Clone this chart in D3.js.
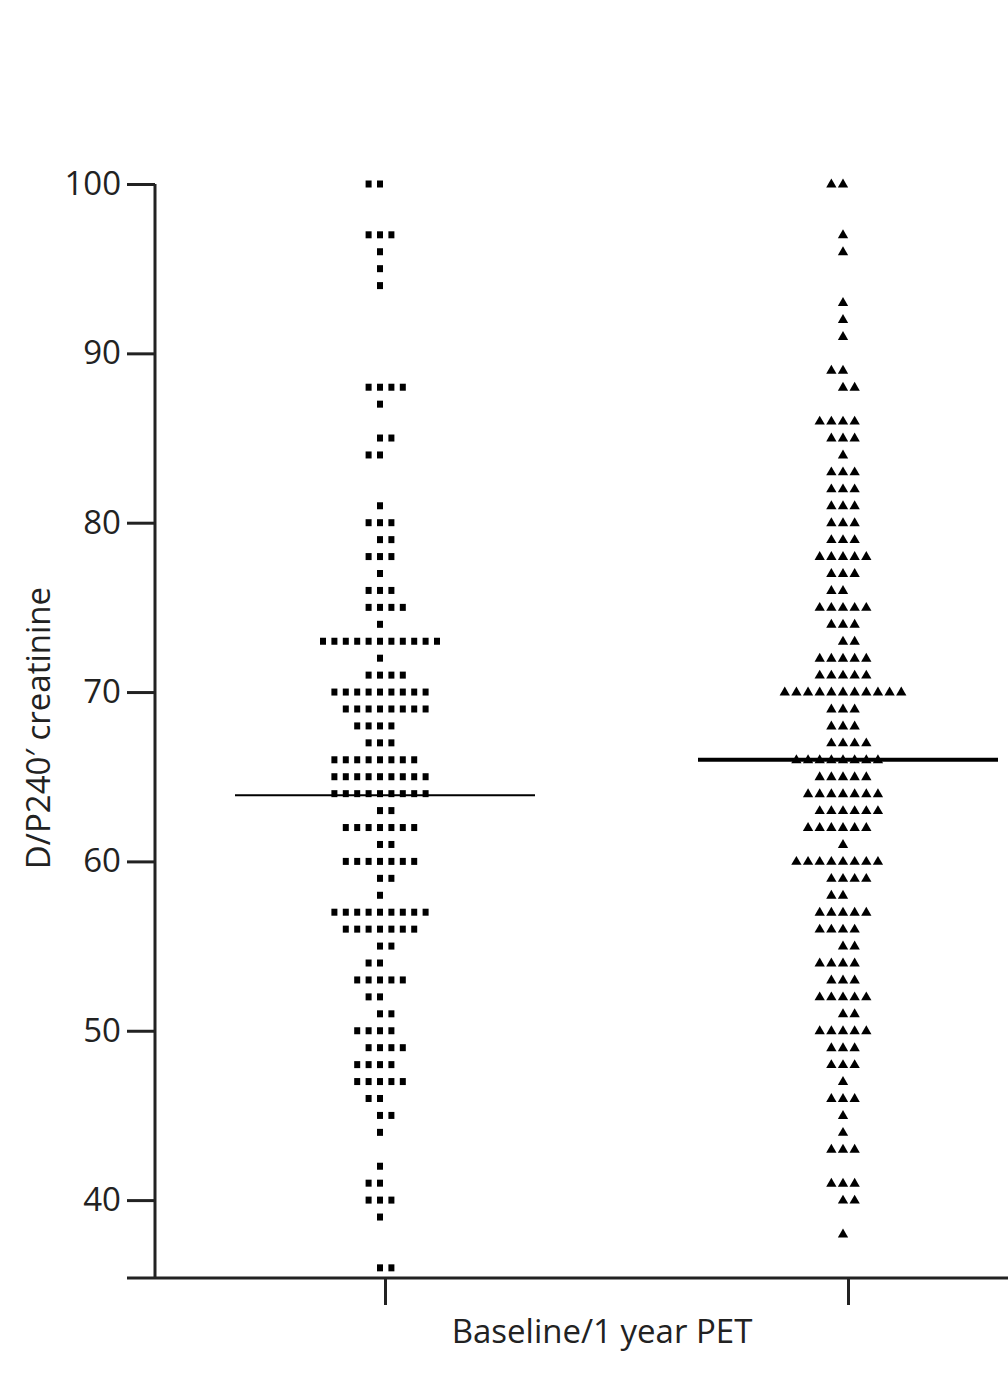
<!DOCTYPE html>
<html>
<head>
<meta charset="utf-8">
<script src="https://cdn.jsdelivr.net/npm/d3@7"></script>
<style>
  body { margin: 0; background: #fff; }
  text { font-family: "Open Sans", "Noto Sans", sans-serif; fill: #222; }
</style>
</head>
<body>
<div id="chart"></div>
<script>
// Groups along the x axis
var groups = ['Baseline', '1 year PET'];

// Baseline PET: value and number of patients with that value
var baselineValues = [100, 97, 96, 95, 94, 88, 87, 85, 84, 81, 80, 79, 78, 77, 76, 75, 74, 73, 72, 71,
    70, 69, 68, 67, 66, 65, 64, 63, 62, 61, 60, 59, 58, 57, 56, 55, 54, 53, 52, 51,
    50, 49, 48, 47, 46, 45, 44, 42, 41, 40, 39, 36];
var baselineCounts = [2, 3, 1, 1, 1, 4, 1, 2, 2, 1, 3, 2, 3, 1, 3, 4, 1, 11, 1, 4,
    9, 8, 4, 3, 8, 9, 9, 2, 7, 2, 7, 2, 1, 9, 7, 2, 2, 5, 2, 2,
    4, 4, 4, 5, 2, 2, 1, 1, 2, 3, 1, 2];

// 1 year PET
var yearValues = [100, 97, 96, 93, 92, 91, 89, 88, 86, 85, 84, 83, 82, 81, 80, 79, 78, 77, 76, 75,
    74, 73, 72, 71, 70, 69, 68, 67, 66, 65, 64, 63, 62, 61, 60, 59, 58, 57, 56, 55,
    54, 53, 52, 51, 50, 49, 48, 47, 46, 45, 44, 43, 41, 40, 38];
var yearCounts = [2, 1, 1, 1, 1, 1, 2, 2, 4, 3, 1, 3, 3, 3, 3, 3, 5, 3, 2, 5,
    3, 2, 5, 5, 11, 3, 3, 4, 8, 5, 7, 6, 6, 1, 8, 4, 2, 5, 4, 2,
    4, 3, 5, 2, 5, 3, 3, 1, 3, 1, 1, 3, 3, 2, 1];

// Horizontal lines drawn across each group
var groupMeans = [63.9, 66.0];

// Which side an even row leans to (-1 left, 1 right)
var baselineLean = {100: -1, 88: 1, 85: 1, 84: -1, 79: 1, 75: 1, 71: 1, 69: 1, 68: -1, 66: -1,
    63: 1, 61: 1, 59: 1, 55: 1, 54: -1, 52: -1, 51: 1, 50: -1, 49: 1, 48: -1,
    46: -1, 45: 1, 41: -1, 36: 1};
var yearLean = {100: -1, 89: -1, 88: 1, 86: -1, 76: -1, 73: 1, 67: 1, 66: -1, 63: 1, 62: -1,
    60: -1, 59: 1, 58: -1, 56: -1, 55: 1, 54: -1, 51: 1, 40: 1};

var yTicks = [40, 50, 60, 70, 80, 90, 100];

var width = 1008,
    height = 1375;

var svg = d3.select('#chart').append('svg')
    .attr('width', width)
    .attr('height', height);

var y = d3.scaleLinear().domain([35.4, 100]).range([1278, 184]);
var x = d3.scalePoint().domain(groups).range([385, 848]);

// Expand value/count rows into dots placed side by side
function layout(values, counts, lean, group, step) {
    var pts = [];
    values.forEach(function (v, i) {
        var n = counts[i];
        var lo;
        if (n % 2 === 1) lo = -(n - 1) / 2;
        else lo = (lean[v] === 1) ? -(n / 2 - 1) : -n / 2;
        for (var j = 0; j < n; j++) {
            pts.push({ group: group, value: v, k: lo + j, step: step });
        }
    });
    return pts;
}

var basePts = layout(baselineValues, baselineCounts, baselineLean, groups[0], 11.4);
var yearPts = layout(yearValues, yearCounts, yearLean, groups[1], 11.65);
var dotShift = -5;

// y axis
var yAxis = d3.axisLeft(y).tickValues(yTicks).tickSize(28).tickPadding(6).tickSizeOuter(0);
var yg = svg.append('g')
    .attr('transform', 'translate(155,0)')
    .call(yAxis);
yg.select('.domain').attr('stroke', '#222').attr('stroke-width', 3)
    .attr('d', 'M0,' + y(100) + 'V' + y.range()[0]);
yg.selectAll('.tick line').attr('stroke', '#222').attr('stroke-width', 3);
yg.selectAll('.tick text')
    .style('font-size', '33px')
    .style('font-family', '"Open Sans", sans-serif')
    .attr('fill', '#222');

// x axis
var xAxis = d3.axisBottom(x).tickSize(27).tickFormat('').tickSizeOuter(0);
var xg = svg.append('g')
    .attr('transform', 'translate(0,1278)')
    .call(xAxis);
xg.select('.domain').attr('stroke', '#222').attr('stroke-width', 3)
    .attr('d', 'M127,0H' + width);
xg.selectAll('.tick line').attr('stroke', '#222').attr('stroke-width', 3);

// axis titles
svg.append('text')
    .attr('transform', 'translate(50,' + 728 + ') rotate(-90)')
    .attr('text-anchor', 'middle')
    .style('font-size', '33px')
    .text('D/P240\u2032 creatinine');

svg.append('text')
    .attr('x', 602)
    .attr('y', 1343)
    .attr('text-anchor', 'middle')
    .style('font-size', '33px')
    .text('Baseline/1 year PET');

// squares for baseline
svg.append('g').selectAll('rect')
    .data(basePts)
    .enter()
    .append('rect')
    .attr('x', function (d) { return x(d.group) + dotShift + d.k * d.step - 3; })
    .attr('y', function (d) { return y(d.value) - 3.5; })
    .attr('width', 6)
    .attr('height', 7)
    .attr('fill', '#000');

// triangles for 1 year
var tri = d3.symbol().type(d3.symbolTriangle).size(46);
svg.append('g').selectAll('path')
    .data(yearPts)
    .enter()
    .append('path')
    .attr('d', tri)
    .attr('transform', function (d) {
        return 'translate(' + (x(d.group) + dotShift + d.k * d.step) + ',' + (y(d.value) + 0.5) + ')';
    })
    .attr('fill', '#000');

// mean lines
svg.append('g').selectAll('line')
    .data(groupMeans)
    .enter()
    .append('line')
    .attr('x1', function (d, i) { return x(groups[i]) - 150; })
    .attr('x2', function (d, i) { return x(groups[i]) + 150; })
    .attr('y1', function (d) { return y(d); })
    .attr('y2', function (d) { return y(d); })
    .attr('stroke', '#000')
    .attr('stroke-width', function (d, i) { return i === 0 ? 2 : 4; });
</script>
</body>
</html>
